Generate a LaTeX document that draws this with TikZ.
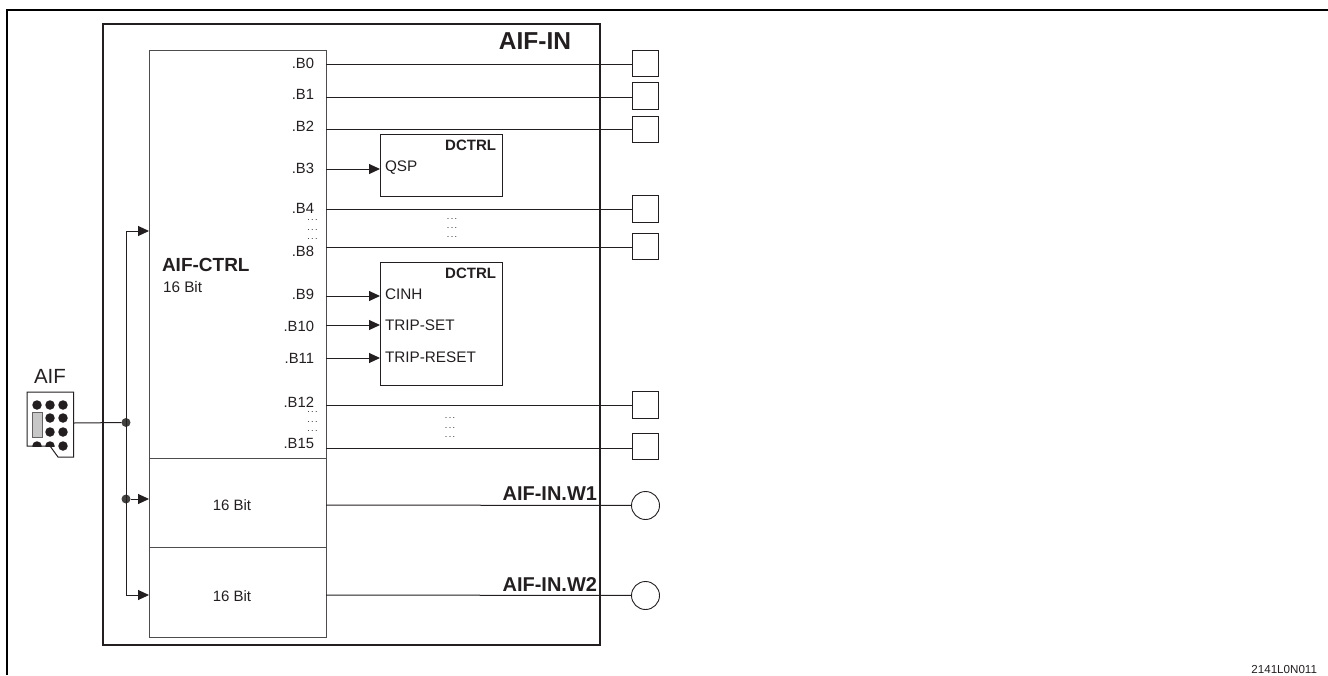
\documentclass[tikz,border=0pt]{standalone}
\usepackage{fontspec}
\setmainfont{Liberation Sans}
\usetikzlibrary{arrows.meta}
\definecolor{ink}{HTML}{231F20}
\tikzset{
  x=1pt,y=-1pt,
  every node/.style={text=ink,inner sep=0pt,outer sep=0pt},
  frame/.style={draw=black,line width=1.7pt},
  main/.style={draw=ink,line width=1.5pt},
  inner/.style={draw=ink!80,line width=1pt},
  wire/.style={draw=ink,line width=1pt},
  flow/.style={wire,-{Triangle[length=11pt,width=10pt]}},
  term/.style={draw=ink,line width=0.9pt,minimum size=26.5pt,fill=white},
  output/.style={draw=ink,line width=0.9pt,circle,minimum size=28pt,fill=white},
  lab/.style={font=\fontsize{14.8}{16}\selectfont,anchor=east},
  pin/.style={font=\fontsize{15.3}{17}\selectfont,anchor=west},
  bold/.style={font=\fontsize{15}{17}\selectfont\bfseries},
  hdots/.style={font=\fontsize{9}{9}\selectfont},
  jn/.style={circle,fill=ink!85,minimum size=9pt},
  pinb/.style={circle,fill=ink,minimum size=9.5pt},
}
\newcommand{\vdotsrow}[2]{\node[hdots] at (#1,#2) {.\kern1.4pt.\kern1.4pt.};}
\begin{document}
\begin{tikzpicture}
\useasboundingbox (0,0) rectangle (1328,675);
% page frame
\draw[frame] (7,675) -- (7,10) -- (1328,10);
% blocks
\node[main,minimum width=497pt,minimum height=621pt,anchor=north west] (aifin) at (103,24) {};
\node[inner,minimum width=176.5pt,minimum height=408pt,anchor=north west] (ctrl) at (149.5,50) {};
\node[inner,minimum width=176.5pt,minimum height=89pt,anchor=north west] (w1box) at (149.5,458) {};
\node[inner,minimum width=176.5pt,minimum height=90pt,anchor=north west] (w2box) at (149.5,547) {};
\node[wire,minimum width=122pt,minimum height=62pt,anchor=north west] (dc1) at (380,134) {};
\node[wire,minimum width=122pt,minimum height=123pt,anchor=north west] (dc2) at (380,262) {};
% titles
\node[font=\fontsize{24.5}{26}\selectfont\bfseries,anchor=east] at (571,41) {AIF-IN};
\node[bold,anchor=east] at (496,145) {DCTRL};
\node[bold,anchor=east] at (496,273) {DCTRL};
\node[font=\fontsize{19}{21}\selectfont\bfseries,anchor=west] at (162,265) {AIF-CTRL};
\node[pin] at (163,287) {16 Bit};
\node[font=\fontsize{15}{17}\selectfont] at (232,505) {16 Bit};
\node[font=\fontsize{15}{17}\selectfont] at (232,596) {16 Bit};
\node[font=\fontsize{20}{22}\selectfont\bfseries,anchor=east] at (597,494) {AIF-IN.W1};
\node[font=\fontsize{20}{22}\selectfont\bfseries,anchor=east] at (597,585) {AIF-IN.W2};
% bit labels
\node[lab] at (314,63) {.B0};
\node[lab] at (314,94) {.B1};
\node[lab] at (314,126) {.B2};
\node[lab] at (314,168) {.B3};
\node[lab] at (314,208) {.B4};
\node[lab] at (314,251) {.B8};
\node[lab] at (314,294) {.B9};
\node[lab] at (314,326) {.B10};
\node[lab] at (314,358) {.B11};
\node[lab] at (314,402) {.B12};
\node[lab] at (314,443) {.B15};
% ellipsis marks
\vdotsrow{312.5}{220}\vdotsrow{312.5}{230}\vdotsrow{312.5}{239}
\vdotsrow{452}{219}\vdotsrow{452}{228}\vdotsrow{452}{237}
\vdotsrow{312.5}{412}\vdotsrow{312.5}{422}\vdotsrow{312.5}{431}
\vdotsrow{450}{418}\vdotsrow{450}{428}\vdotsrow{450}{437}
% pins
\coordinate (qsp) at (380,169);
\coordinate (cinh) at (380,296);
\coordinate (tset) at (380,325);
\coordinate (trst) at (380,358);
\node[pin] at (385,168) {QSP};
\node[pin] at (385,294) {CINH};
\node[pin] at (385,325) {TRIP-SET};
\node[pin] at (385,357) {TRIP-RESET};
% outputs
\node[term] (t0) at (645.5,63.5) {};
\node[term] (t1) at (645.5,96) {};
\node[term] (t2) at (645.5,129.5) {};
\node[term] (t4) at (645.5,209) {};
\node[term] (t8) at (645.5,246.5) {};
\node[term] (t12) at (645.5,405) {};
\node[term] (t15) at (645.5,446.5) {};
\node[output] (c1) at (645.5,505.5) {};
\node[output] (c2) at (645.5,595.5) {};
% bit wires
\foreach \t/\yy in {t0/64,t1/97,t2/129,t4/209,t8/247,t12/405,t15/448}{
  \coordinate (s\t) at (326,\yy);
  \draw[wire] (s\t) -- (s\t -| \t.west);
}
\coordinate (sw1) at (326,505);
\coordinate (sw2) at (326,595);
\draw[wire] (sw1) -- (c1);
\draw[wire] (sw2) -- (c2);
\foreach \t/\yy in {qsp/169,cinh/296,tset/325,trst/358}{
  \coordinate (s\t) at (326,\yy);
  \draw[flow] (s\t) -- (\t);
}
% AIF connector
\node[font=\fontsize{20.5}{22}\selectfont] at (50,376) {AIF};
\coordinate (plug) at (74,423);
\foreach \px/\py [count=\i] in {37/405,50/405,63/405,50/418,63/418,50/432,63/432,63/446}{
  \node[pinb] (p\i) at (\px,\py) {};
}
\begin{scope}
\clip (27,392) rectangle (73,446);
\node[pinb] (p9) at (37,446) {};
\node[pinb] (p10) at (50,446) {};
\end{scope}
\node[draw=ink!70,fill=ink!25,line width=0.8pt,minimum width=10pt,minimum height=25pt,anchor=north west] (key) at (32,412) {};
\draw[line width=1pt,draw=ink] (27,446) -- (27,392) -- (73.5,392) -- (73.5,457) -- (58,457) -- (50,446) -- cycle;
% bus
\node[jn] (j1) at (126,422.5) {};
\node[jn] (j2) at (126,499) {};
\coordinate (bustop) at (126,231);
\coordinate (busbot) at (126,595);
\coordinate (in0) at (149,231);
\coordinate (in1) at (149,499);
\coordinate (in2) at (149,595);
\draw[wire] (plug) -- (j1);
\draw[flow] (j2) -- (in1);
\draw[flow] (j1 |- bustop) -- (in0);
\draw[flow] (j1 |- busbot) -- (in2);
\draw[wire] (bustop) -- (busbot);
% code
\node[font=\fontsize{11.6}{13}\selectfont,anchor=east] at (1317,669) {2141L0N011};
\end{tikzpicture}
\end{document}
